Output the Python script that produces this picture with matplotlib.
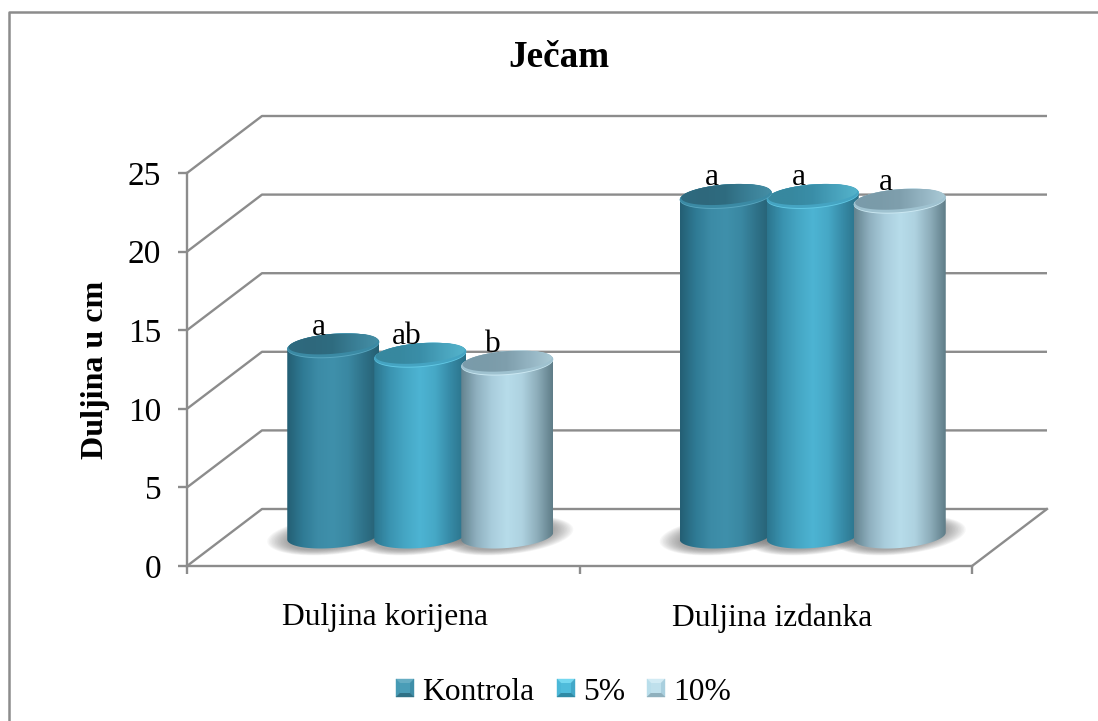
import numpy as np
import matplotlib
matplotlib.use('Agg')
import matplotlib.pyplot as plt
from matplotlib.colors import LinearSegmentedColormap
from matplotlib.lines import Line2D
from matplotlib.patches import Polygon

title = 'Ječam'
ylabel = 'Duljina u cm'
categories = ['Duljina korijena', 'Duljina izdanka']
series_names = ['Kontrola', '5%', '10%']
kontrola = [12.1, 21.6]
pet_posto = [11.5, 21.6]
deset_posto = [11.0, 21.3]
bar_labels = [['a', 'a'], ['ab', 'a'], ['b', 'a']]
y_ticks = [0, 5, 10, 15, 20, 25]

W, H = 1098, 721
GREY = '#8c8c8c'
FONT = 'Liberation Serif'
plt.rcParams['font.family'] = FONT

# colours of the cylinders, left to right across the body
body_colors = [
    ['#245f74', '#2f7a94', '#3c8ba6', '#3f90ab', '#3a88a2', '#2f7289', '#255f72'],
    ['#2b758e', '#3a93b0', '#45a6c4', '#4db4d3', '#46a8c6', '#368aa6', '#2a7087'],
    ['#64838f', '#8fb0bf', '#a9cddc', '#b7dcea', '#aed2e0', '#8dadba', '#5f7d88'],
]
cap_colors = [
    ['#2f6b80', '#2e687c', '#2f6c80', '#3a7f96', '#458fa6'],
    ['#37889f', '#37889f', '#3a8ea8', '#48a2bc', '#55b4cc'],
    ['#7a9cab', '#7a9ba9', '#7f9fad', '#94b4c2', '#aacad6'],
]
band_colors = ['#3b8aa4', '#45a4c2', '#9fc2d0']
rim_colors = ['#58a6bf', '#62c8e4', '#cbe8f2']
legend_bevels = [
    ['#66adc3', '#469ab4', '#3f8ea8', '#2f7186', '#4a9db7'],
    ['#74d8f0', '#4bb8d8', '#42a8c8', '#2f8aa5', '#4fbcdb'],
    ['#d2ebf4', '#b9deeb', '#a9cfde', '#8fb0bd', '#bfe0ec'],
]

fig = plt.figure(figsize=(W / 100, H / 100), dpi=100)
ax = fig.add_axes([187 / W, (H - 566) / H, 785 / W, 393 / H])
ax.set_xlim(0, 2)
ax.set_ylim(0, 25)
ax.patch.set_alpha(0)

# size of one pixel in data units
px = 2 / 785
py = 25 / 393
depth_x = 75 * px
depth_y = 57 * py

# floor, wall and grid lines of the fake 3d box
for t in y_ticks:
    ax.plot([0, depth_x, 2 + depth_x], [t, t + depth_y, t + depth_y],
            color=GREY, lw=1.7, clip_on=False, zorder=1, solid_capstyle='butt')
ax.plot([2, 2 + depth_x], [0, depth_y], color=GREY, lw=1.7, clip_on=False, zorder=1)

for side in ['top', 'right']:
    ax.spines[side].set_visible(False)
for side in ['left', 'bottom']:
    ax.spines[side].set_color(GREY)
    ax.spines[side].set_linewidth(1.7)
    ax.spines[side].set_zorder(2)
ax.set_yticks(y_ticks)
ax.set_xticks([0, 1, 2])
ax.set_xticklabels([])
ax.set_xticks([0.505, 1.49], categories, minor=True)
ax.tick_params(axis='y', color=GREY, width=1.7, length=6.5, pad=12, labelsize=24)
ax.tick_params(axis='x', which='major', color=GREY, width=1.7, length=6)
ax.tick_params(axis='x', which='minor', length=0, pad=27, labelsize=22.7)


def ellipse(cx, cy, a, b, shear):
    t = np.linspace(0, 2 * np.pi, 120)
    xs = cx + a * px * np.cos(t)
    ys = cy + (b * np.sin(t) + shear * np.cos(t)) * py
    return np.column_stack([xs, ys])


def draw_shadow(cx, base):
    for k in np.linspace(1.0, 0.7, 14):
        pts = ellipse(cx, base + 0.5 * py, 66 * k, 19 * k, 6)
        ax.add_patch(Polygon(pts, closed=True, fc='#606060', ec='none', alpha=0.05, zorder=3))


def draw_body(cx, base, value, colors, z):
    a, b, shear = 46, 12, 3.5
    cmap = LinearSegmentedColormap.from_list('body', colors)
    grad = np.linspace(0, 1, 200).reshape(1, -1)
    left = cx - a * px
    right = cx + a * px
    top = base + value
    im = ax.imshow(grad, cmap=cmap, extent=[left, right, base - 20 * py, top + 20 * py],
                   aspect='auto', zorder=z, interpolation='bilinear')
    t = np.linspace(np.pi, 2 * np.pi, 60)
    low = np.column_stack([cx + a * px * np.cos(t),
                           base + (b * np.sin(t) + shear * np.cos(t)) * py])
    t2 = np.linspace(0, np.pi, 60)
    high = np.column_stack([cx + a * px * np.cos(t2),
                            top + (b * np.sin(t2) + shear * np.cos(t2)) * py])
    clip = Polygon(np.vstack([low, high]), closed=True, transform=ax.transData)
    im.set_clip_path(clip)


def draw_cap(cx, top, colors, band, rim, z):
    a, b, shear = 46, 12, 3.5
    ax.add_patch(Polygon(ellipse(cx, top, a, b, shear), closed=True, fc=rim, ec='none', zorder=z))
    ax.add_patch(Polygon(ellipse(cx, top + 0.5 * py, a, b - 0.5, shear), closed=True,
                         fc=band, ec='none', zorder=z))
    # flat top of the cylinder, a bit lighter towards the right
    cmap = LinearSegmentedColormap.from_list('cap', colors)
    grad = np.linspace(0, 1, 100).reshape(1, -1)
    im = ax.imshow(grad, cmap=cmap, extent=[cx - a * px, cx + a * px, top - b * py, top + b * py],
                   aspect='auto', zorder=z, interpolation='bilinear')
    clip = Polygon(ellipse(cx, top + 2 * py, a * 0.97, b - 2, shear), closed=True,
                   transform=ax.transData)
    im.set_clip_path(clip)


bar_step = 87 * px
bar_base = 30 * py
bar_shift = 37 * px
all_series = [kontrola, pet_posto, deset_posto]

for c in range(len(categories)):
    center = c + 0.5 + bar_shift
    xs = [center + (s - 1) * bar_step for s in range(3)]
    for s in range(3):
        draw_shadow(xs[s], bar_base)
    for s in range(3):
        draw_body(xs[s], bar_base, all_series[s][c], body_colors[s], 4 + s * 0.1)
    # the caps overlap right to left
    for s in [2, 1, 0]:
        draw_cap(xs[s], bar_base + all_series[s][c], cap_colors[s], band_colors[s], rim_colors[s],
                 5 + (2 - s) * 0.1)
    for s in range(3):
        ax.text(xs[s] - 14 * px, bar_base + all_series[s][c] + 11 * py, bar_labels[s][c],
                ha='center', va='baseline', fontsize=22.7, zorder=7)

ax.set_xlim(0, 2)
ax.set_ylim(0, 25)


def fx(x):
    return x / W


def fy(y):
    return (H - y) / H


# outer frame, only top and left are inside the picture
fig.add_artist(Line2D([fx(8.5), fx(8.5), 1], [0, fy(12), fy(12)], color=GREY, lw=1.8))

fig.text(fx(558.5), fy(67), title, fontsize=26.7, fontweight='bold', ha='center', va='baseline')
fig.text(fx(95), fy(370), ylabel, fontsize=23, fontweight='bold', rotation=90,
         ha='center', va='center')

# legend with small bevelled squares
legend_x = [396, 557, 647]
for name, x0, bevel in zip(series_names, legend_x, legend_bevels):
    x1, y0, y1 = x0 + 18, 679, 697
    mx, my = x0 + 9, 688
    tris = [[(x0, y0), (x1, y0), (mx, my)], [(x0, y0), (x0, y1), (mx, my)],
            [(x1, y0), (x1, y1), (mx, my)], [(x0, y1), (x1, y1), (mx, my)]]
    for tri, col in zip(tris, bevel):
        fig.add_artist(Polygon([(fx(a), fy(b)) for a, b in tri], closed=True, fc=col, ec=col,
                               lw=0.3, transform=fig.transFigure))
    inner = [(x0 + 4, y0 + 4), (x1 - 4, y0 + 4), (x1 - 4, y1 - 4), (x0 + 4, y1 - 4)]
    fig.add_artist(Polygon([(fx(a), fy(b)) for a, b in inner], closed=True, fc=bevel[4], ec='none',
                           transform=fig.transFigure))
    fig.text(fx(x1 + 8), fy(700), name, fontsize=22.7, ha='left', va='baseline')

fig.savefig('out.png', dpi=100)
